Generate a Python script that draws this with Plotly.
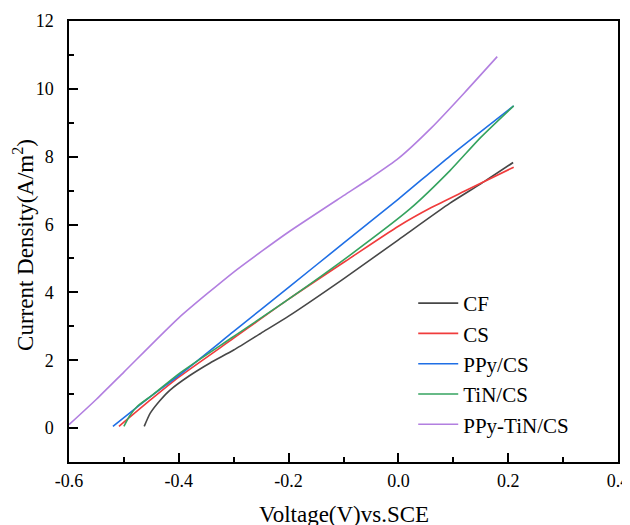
import plotly.graph_objects as go

# Data
cf_x = [-0.463, -0.452, -0.435, -0.416, -0.38, -0.343, -0.3, -0.25, -0.2, -0.1, 0.0, 0.094, 0.15, 0.209]
cf_y = [0.05, 0.44, 0.8, 1.12, 1.55, 1.92, 2.3, 2.8, 3.3, 4.4, 5.55, 6.63, 7.2, 7.83]

cs_x = [-0.509, -0.45, -0.4, -0.3, -0.2, -0.088, 0.0, 0.06, 0.12, 0.21]
cs_y = [0.05, 0.85, 1.5, 2.65, 3.8, 5.01, 5.95, 6.5, 6.98, 7.69]

ppy_x = [-0.52, -0.45, -0.4, -0.3, -0.2, -0.1, 0.0, 0.094, 0.21]
ppy_y = [0.05, 0.95, 1.55, 2.85, 4.15, 5.45, 6.75, 8.02, 9.5]

tin_x = [-0.5, -0.49, -0.475, -0.45, -0.4, -0.3, -0.2, -0.088, 0.021, 0.094, 0.15, 0.21]
tin_y = [0.05, 0.35, 0.65, 0.95, 1.6, 2.7, 3.8, 5.1, 6.46, 7.59, 8.57, 9.5]

ppytin_x = [-0.6, -0.55, -0.5, -0.4, -0.3, -0.25, -0.2, -0.1, -0.05, 0.0, 0.06, 0.12, 0.18]
ppytin_y = [0.1, 0.85, 1.65, 3.25, 4.6, 5.2, 5.78, 6.85, 7.38, 7.95, 8.85, 9.88, 10.95]

names = ["CF", "CS", "PPy/CS", "TiN/CS", "PPy-TiN/CS"]
colors = ["#474747", "#f03c3c", "#1f6fe5", "#35a35f", "#b27fe0"]
xs = [cf_x, cs_x, ppy_x, tin_x, ppytin_x]
ys = [cf_y, cs_y, ppy_y, tin_y, ppytin_y]

x_ticks = [-0.6, -0.4, -0.2, 0.0, 0.2, 0.4]
x_ticklabels = ["-0.6", "-0.4", "-0.2", "0.0", "0.2", "0.4"]
y_ticks = [0, 2, 4, 6, 8, 10, 12]

FONT = "Liberation Serif, Times New Roman, serif"

fig = go.Figure()
for n, c, x, y in zip(names, colors, xs, ys):
    fig.add_trace(go.Scatter(x=x, y=y, mode="lines", name=n,
                             line=dict(color=c, width=1.6, shape="spline", smoothing=0.6)))

axis_common = dict(
    showline=True, linecolor="#000", linewidth=1.5, mirror=True,
    ticks="inside", ticklen=9, tickwidth=1.5, tickcolor="#000",
    showgrid=False, zeroline=False, automargin=False,
    tickfont=dict(family=FONT, size=18, color="#000"),
)

fig.update_xaxes(range=[-0.6, 0.4], tickvals=x_ticks, ticktext=x_ticklabels,
                 minor=dict(ticks="inside", ticklen=5, tickwidth=1.5, dtick=0.1, tickcolor="#000"),
                 ticklabelstandoff=2, **axis_common)
fig.update_yaxes(range=[-1, 12], tickvals=y_ticks,
                 minor=dict(ticks="inside", ticklen=5, tickwidth=1.5, dtick=1, tickcolor="#000"),
                 ticklabelstandoff=10, **axis_common)

fig.add_annotation(text="Voltage(V)vs.SCE", xref="paper", yref="paper",
                   x=0.5, y=-0.086, yanchor="top", showarrow=False,
                   font=dict(family=FONT, size=23, color="#000"))
fig.add_annotation(text="Current Density(A/m<sup>2</sup>)", xref="paper", yref="paper",
                   x=-0.084, y=0.492, xanchor="center", yanchor="middle", textangle=-90,
                   showarrow=False, font=dict(family=FONT, size=23, color="#000"))

fig.update_layout(
    width=630, height=525,
    margin=dict(l=61, r=20, t=13, b=71),
    paper_bgcolor="white", plot_bgcolor="white",
    showlegend=True,
    legend=dict(x=0.627, y=0.406, xanchor="left", yanchor="top",
                font=dict(family=FONT, size=21, color="#000"),
                bgcolor="rgba(0,0,0,0)", tracegroupgap=0, itemwidth=40),
)

fig.write_html("out.html")
